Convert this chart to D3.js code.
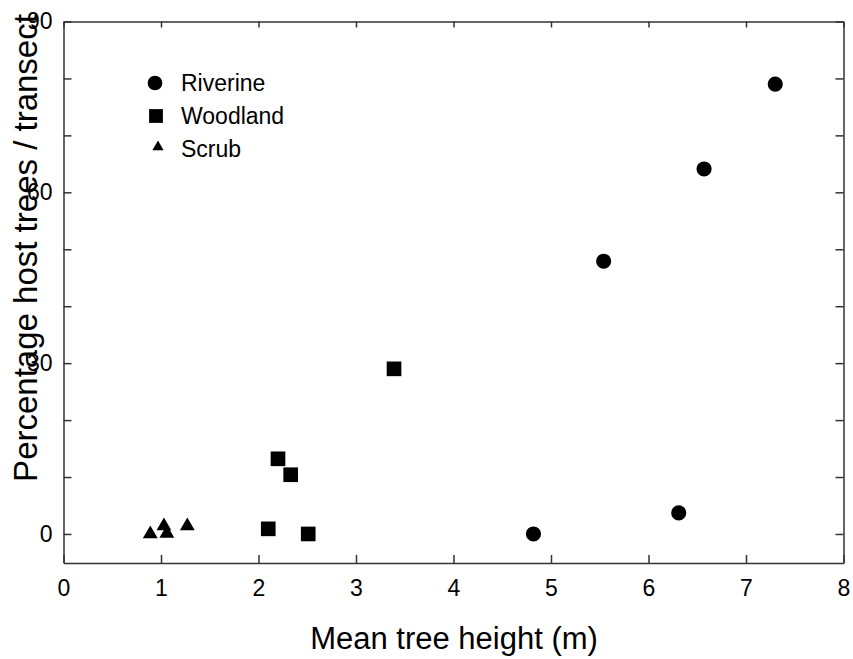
<!doctype html>
<html>
<head>
    <style>
        body { margin: 0; background: #fff; }
        svg { font-family: "Liberation Sans", Arial, sans-serif; }
        .domain { stroke: #333; stroke-width: 1.5; }
        .tick line { stroke: #333; stroke-width: 1.5; }
        .tick text { font-size: 23px; fill: #000; }
    </style>
    <script src="https://d3js.org/d3.v7.min.js"></script>
</head>
<body>
<svg width="853" height="659"></svg>
<script>
    // data
    var categories = ["Riverine", "Woodland", "Scrub"];
    var riverineX = [4.82, 5.54, 6.31, 6.57, 7.30];
    var riverineY = [0, 47.9, 3.7, 64.1, 79.0];
    var woodlandX = [2.10, 2.20, 2.33, 2.51, 3.39];
    var woodlandY = [0.9, 13.2, 10.4, 0, 29.0];
    var scrubX = [0.89, 1.03, 1.06, 1.27];
    var scrubY = [0, 1.4, 0.1, 1.4];
    var xTicks = [0, 1, 2, 3, 4, 5, 6, 7, 8];
    var yTicks = [0, 10, 20, 30, 40, 50, 60, 70, 80, 90];
    var yLabels = [0, 30, 60, 90];

    var svg = d3.select("svg"),
        marginLeft = 63.5, marginTop = 21.5,
        width = 780, height = 541.5;

    var x = d3.scaleLinear().domain([0, 8]).range([0, width]),
        y = d3.scaleLinear().domain([-5.1, 90]).range([height, 0]);

    var g = svg.append("g")
        .attr("transform", "translate(" + marginLeft + "," + marginTop + ")");

    // axes, ticks pointing inward on all four sides
    g.append("g")
        .attr("transform", "translate(0," + height + ")")
        .call(d3.axisBottom(x).tickValues(xTicks).tickSizeInner(-8).tickSizeOuter(0).tickPadding(17));
    g.append("g")
        .call(d3.axisTop(x).tickValues(xTicks).tickSizeInner(-6).tickSizeOuter(0).tickFormat(""));
    g.append("g")
        .call(d3.axisLeft(y).tickValues(yTicks).tickSizeInner(-8).tickSizeOuter(0).tickPadding(11)
            .tickFormat(function(d) { return yLabels.indexOf(d) >= 0 ? d : ""; }));
    g.append("g")
        .attr("transform", "translate(" + width + ",0)")
        .call(d3.axisRight(y).tickValues(yTicks).tickSizeInner(-8).tickSizeOuter(0).tickFormat(""));

    // axis titles
    svg.append("text")
        .attr("x", 454)
        .attr("y", 649)
        .attr("text-anchor", "middle")
        .attr("font-size", "31px")
        .text("Mean tree height (m)");
    svg.append("text")
        .attr("transform", "translate(37,248) rotate(-90)")
        .attr("text-anchor", "middle")
        .attr("font-size", "33px")
        .text("Percentage host trees / transect");

    function pts(xs, ys) {
        return xs.map(function(v, i) { return { x: v, y: ys[i] }; });
    }

    var symbols = {
        Riverine: d3.symbol().type(d3.symbolCircle).size(180),
        Woodland: d3.symbol().type(d3.symbolSquare).size(215),
        Scrub: d3.symbol().type(d3.symbolTriangle).size(95)
    };
    var series = {
        Riverine: pts(riverineX, riverineY),
        Woodland: pts(woodlandX, woodlandY),
        Scrub: pts(scrubX, scrubY)
    };

    categories.forEach(function(c) {
        g.selectAll(".pt-" + c)
            .data(series[c])
            .enter().append("path")
            .attr("class", "pt-" + c)
            .attr("d", symbols[c])
            .attr("transform", function(d) { return "translate(" + x(d.x) + "," + y(d.y) + ")"; })
            .attr("fill", "#000");
    });

    // legend
    var legendSym = {
        Riverine: d3.symbol().type(d3.symbolCircle).size(170),
        Woodland: d3.symbol().type(d3.symbolSquare).size(190),
        Scrub: d3.symbol().type(d3.symbolTriangle).size(55)
    };
    var legend = svg.append("g").attr("transform", "translate(155,83)");
    categories.forEach(function(c, i) {
        var row = legend.append("g").attr("transform", "translate(0," + (i * 33) + ")");
        row.append("path")
            .attr("d", legendSym[c])
            .attr("transform", c === "Scrub" ? "translate(3,-2)" : c === "Woodland" ? "translate(1,0)" : null)
            .attr("fill", "#000");
        row.append("text")
            .attr("x", 26)
            .attr("y", 8)
            .attr("font-size", "23px")
            .text(c);
    });
</script>
</body>
</html>
